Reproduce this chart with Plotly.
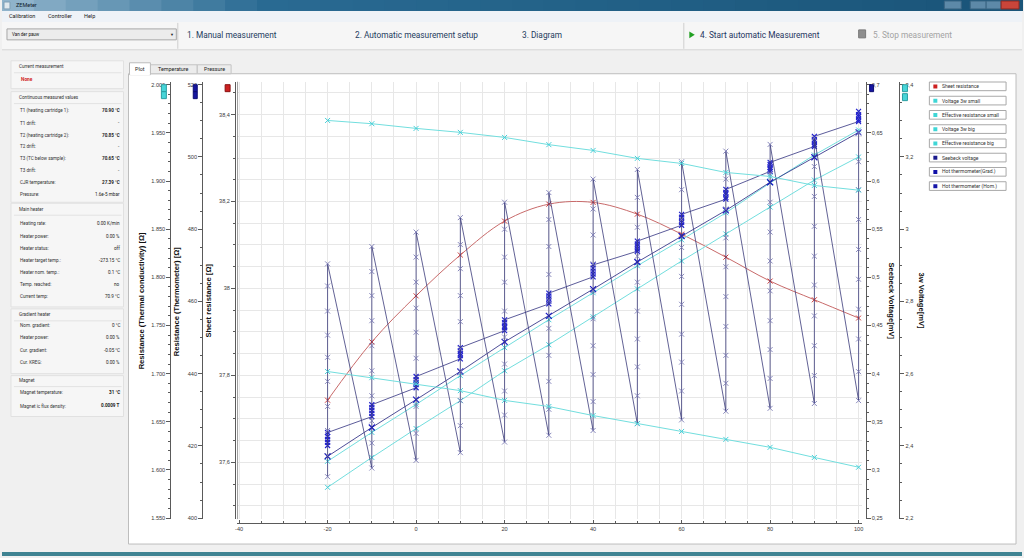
import plotly.graph_objects as go

W, H = 1024, 558
def fx(x): return x / W
def fy(y): return 1 - y / H

# ---------------- data ----------------
temps = [-20, -10, 0, 10, 20, 30, 40, 50, 60, 70, 80, 90, 100]
sheet_resistance = [37.743, 37.877, 37.983, 38.077, 38.155, 38.194, 38.198,
                    38.171, 38.125, 38.072, 38.017, 37.974, 37.932]
voltage_3w_small = [3.301, 3.292, 3.279, 3.268, 3.254, 3.234, 3.218,
                    3.196, 3.182, 3.157, 3.146, 3.121, 3.108]
voltage_3w_big = [2.606, 2.589, 2.572, 2.553, 2.526, 2.509, 2.484,
                  2.462, 2.440, 2.418, 2.396, 2.368, 2.341]
eff_res_small = [1.609, 1.639, 1.668, 1.698, 1.727, 1.756, 1.784,
                 1.812, 1.839, 1.867, 1.898, 1.927, 1.953]
eff_res_big = [1.582, 1.613, 1.643, 1.672, 1.703, 1.730, 1.759,
               1.788, 1.817, 1.845, 1.873, 1.901, 1.925]
hot_hom = [417.1, 425.1, 432.8, 440.6, 448.8, 456.0, 463.4,
           470.9, 478.1, 485.2, 493.0, 499.9, 506.8]
hot_grad = [
    [420.1, 421.0, 421.8, 422.6, 423.7],
    [428.1, 429.0, 429.8, 430.6, 431.4],
    [436.1, 437.0, 437.5, 438.3, 439.2],
    [444.1, 445.0, 445.5, 446.3, 447.2],
    [451.9, 452.7, 453.2, 454.1, 454.9],
    [459.3, 460.1, 460.7, 461.5, 462.3],
    [466.8, 467.6, 468.4, 469.2, 470.1],
    [473.9, 474.5, 475.3, 475.9, 476.7],
    [481.1, 481.9, 482.5, 483.3, 484.1],
    [488.3, 488.8, 489.7, 490.2, 491.0],
    [496.0, 496.6, 497.1, 497.9, 498.5],
    [502.9, 503.4, 504.3, 504.8, 505.7],
    [509.8, 510.3, 511.2, 511.7, 512.6],
]
seebeck = [
    [0.293, 0.315, 0.341, 0.366, 0.392, 0.417, 0.440, 0.465, 0.491, 0.514],
    [0.302, 0.328, 0.351, 0.377, 0.403, 0.429, 0.455, 0.481, 0.506, 0.532],
    [0.310, 0.338, 0.366, 0.392, 0.416, 0.443, 0.468, 0.495, 0.521, 0.547],
    [0.318, 0.346, 0.372, 0.402, 0.426, 0.454, 0.481, 0.509, 0.534, 0.562],
    [0.329, 0.357, 0.382, 0.410, 0.438, 0.465, 0.495, 0.521, 0.550, 0.578],
    [0.336, 0.363, 0.392, 0.419, 0.447, 0.476, 0.503, 0.532, 0.560, 0.588],
    [0.341, 0.371, 0.399, 0.429, 0.457, 0.486, 0.514, 0.544, 0.571, 0.602],
    [0.348, 0.377, 0.407, 0.436, 0.465, 0.495, 0.522, 0.552, 0.583, 0.612],
    [0.352, 0.382, 0.412, 0.441, 0.472, 0.501, 0.531, 0.560, 0.591, 0.620],
    [0.361, 0.390, 0.419, 0.449, 0.480, 0.511, 0.541, 0.571, 0.602, 0.631],
    [0.364, 0.395, 0.425, 0.455, 0.486, 0.517, 0.547, 0.578, 0.607, 0.638],
    [0.369, 0.398, 0.429, 0.460, 0.492, 0.522, 0.553, 0.584, 0.615, 0.645],
    [0.372, 0.402, 0.436, 0.467, 0.498, 0.529, 0.560, 0.591, 0.620, 0.650],
]

x_ticks = [-40, -20, 0, 20, 40, 60, 80, 100]
cond_ticks = [1.55, 1.60, 1.65, 1.70, 1.75, 1.80, 1.85, 1.90, 1.95, 2.00]
cond_labels = ["1.550", "1.600", "1.650", "1.700", "1.750", "1.800", "1.850", "1.900", "1.950", "2.000"]
therm_ticks = [400, 420, 440, 460, 480, 500, 520]
sheet_ticks = [37.6, 37.8, 38.0, 38.2, 38.4]
sheet_labels = ["37,6", "37,8", "38", "38,2", "38,4"]
seeb_ticks = [0.25, 0.30, 0.35, 0.40, 0.45, 0.50, 0.55, 0.60, 0.65, 0.70]
seeb_labels = ["0,25", "0,3", "0,35", "0,4", "0,45", "0,5", "0,55", "0,6", "0,65", "0,7"]
w3_ticks = [2.2, 2.4, 2.6, 2.8, 3.0, 3.2, 3.4]
w3_labels = ["2,2", "2,4", "2,6", "2,8", "3", "3,2", "3,4"]

legend_names = ["Sheet resistance", "Voltage 3w small", "Effective resistance small",
                "Voltage 3w big", "Effective resistance big", "Seebeck voltage",
                "Hot thermometer(Grad.)", "Hot thermometer (Hom.)"]
legend_colors = ["#cc2020", "#3fd6d6", "#3fd6d6", "#3fd6d6", "#3fd6d6",
                 "#1a1a8c", "#1010a8", "#1515a8"]

panel_headers = ["Current measurement", "Continuous measured values", "Main heater",
                 "Gradient heater", "Magnet"]
panel_rows = [
    ("T1 (heating cartridge 1):", "70.90 °C", True),
    ("T1 drift:", "-", False),
    ("T2 (heating cartridge 2):", "70.85 °C", True),
    ("T2 drift:", "-", False),
    ("T3 (TC below sample):", "70.65 °C", True),
    ("T3 drift:", "-", False),
    ("CJR temperature:", "27.39 °C", True),
    ("Pressure:", "1.6e-5 mbar", False),
    ("Heating rate:", "0.00 K/min", False),
    ("Heater power:", "0.00 %", False),
    ("Heater status:", "off", False),
    ("Heater target temp.:", "-273.15 °C", False),
    ("Heater nom. temp.:", "0.1 °C", False),
    ("Temp. reached:", "no", False),
    ("Current temp:", "70.9 °C", False),
    ("Nom. gradient:", "0 °C", False),
    ("Heater power:", "0.00 %", False),
    ("Cur. gradient:", "-0.05 °C", False),
    ("Cur. KREG:", "0.00 %", False),
    ("Magnet temperature:", "31 °C", True),
    ("Magnet ic flux density:", "0.0009 T", True),
]
steps = ["1. Manual measurement", "2. Automatic measurement setup", "3. Diagram",
         "4. Start automatic Measurement", "5. Stop measurement"]
menu_items = ["Calibration", "Controller", "Help"]
tabs = ["Plot", "Temperature", "Pressure"]

# ---------------- layout helpers ----------------
shapes, annotations = [], []
UI = "Roboto, Noto Sans, sans-serif"
AX = "Liberation Sans, Arial, sans-serif"

def rect(x0, y0, x1, y1, fill, line=None, lw=1, layer="below"):
    shapes.append(dict(type="rect", xref="paper", yref="paper",
                       x0=fx(x0), x1=fx(x1), y0=fy(y1), y1=fy(y0),
                       fillcolor=fill, layer=layer,
                       line=dict(color=line or fill, width=lw if line else 0)))

def hline(x0, x1, y, color, layer="below"):
    shapes.append(dict(type="line", xref="paper", yref="paper", x0=fx(x0), x1=fx(x1),
                       y0=fy(y), y1=fy(y), line=dict(color=color, width=1), layer=layer))

def vline(x, y0, y1, color, layer="below"):
    shapes.append(dict(type="line", xref="paper", yref="paper", x0=fx(x), x1=fx(x),
                       y0=fy(y0), y1=fy(y1), line=dict(color=color, width=1), layer=layer))

def text(x, y, s, size=5, color="#222", anchor="left", family=UI, angle=0):
    annotations.append(dict(x=fx(x), y=fy(y), xref="paper", yref="paper", text=s,
                            showarrow=False, xanchor=anchor, yanchor="middle",
                            textangle=angle, font=dict(family=family, size=size, color=color)))

# title bar (gradient strips)
def mix(c1, c2, t):
    a = [int(c1[i:i + 2], 16) for i in (1, 3, 5)]
    b = [int(c2[i:i + 2], 16) for i in (1, 3, 5)]
    return "#" + "".join(f"{int(a[k] + (b[k] - a[k]) * t):02x}" for k in range(3))

n = 32
for i in range(n):
    x0 = i * W / n
    t = i / (n - 1)
    c = mix("#8fb3cb", "#2a6b93", min(1, t * 4)) if t < 0.25 else mix("#2a6b93", "#1a5579", (t - 0.25) / 0.75)
    rect(x0, 0, x0 + W / n + 1, 11, c)
rect(2, 2, 8, 9, "#dfe8ee", "#7f9fb5")
text(12, 5.5, "ZEMeter", size=5.5, color="#10202c")
rect(946, 1, 963, 9, "#5d89a8", "#3b6583")
rect(972, 1, 988, 9, "#5d89a8", "#3b6583")
rect(988, 1, 1003, 9, "#5d89a8", "#3b6583")
rect(1003, 1, 1021, 9, "#c9453a", "#8c2a22")

# menu bar
rect(0, 11, W, 22, "#eef2f7")
mx = [5, 44, 80]
for s, x in zip(menu_items, mx):
    text(x, 16.5, s, size=5.5, color="#1a1a1a")

# toolbar
rect(0, 22, W, 50, "#f6f6f6")
hline(0, W, 50, "#d4d4d4")
rect(5, 29, 175, 40, "#ececec", "#a7a7a7")
text(8, 34.5, "Van der pauw", size=4.5, color="#111")
text(171, 34.5, "▼", size=4, color="#222", anchor="center")
vline(176.5, 23, 49, "#cfcfcf")
vline(684.5, 23, 49, "#cfcfcf")
step_x = [184, 352, 520, 699, 872]
step_col = ["#243c5e", "#243c5e", "#243c5e", "#1e3560", "#a3a3a3"]
for s, x, c in zip(steps, step_x, step_col):
    text(x, 35, s, size=8.3, color=c)
shapes.append(dict(type="path", xref="paper", yref="paper", layer="below",
                   path=f"M {fx(690)},{fy(31.5)} L {fx(695.5)},{fy(35)} L {fx(690)},{fy(38.5)} Z",
                   fillcolor="#22a022", line=dict(width=0)))
rect(860, 30, 867, 38, "#8e8e8e", "#7a7a7a")

# left panel
group_boxes = [(61, 89), (92, 203), (204, 308), (310, 375), (377, 418)]
header_y = [67, 98, 210, 316, 382]
for (y0, y1), hy, h in zip(group_boxes, header_y, panel_headers):
    rect(9, y0, 122, y1, "#f6f6f6", "#e1e1e1")
    text(15, hy, h, size=4.6, color="#333")
    hline(12, 120, hy + 6, "#e2e2e2")
text(17, 80, "<b>None</b>", size=4.8, color="#d02424")
row_y = [111, 123, 136, 147, 159, 171, 183, 195, 224, 237, 249, 261, 273, 286, 298,
         327, 339, 352, 364, 394, 407]
for (lab, val, bold), y in zip(panel_rows, row_y):
    text(16, y, lab, size=4.6, color="#333")
    text(120, y, f"<b>{val}</b>" if bold else val, size=4.6, color="#222", anchor="right")

# tab page
rect(127, 74, 1018, 546, "#ffffff", "#bdbdbd")
rect(149, 65, 196, 74, "#ececec", "#c3c3c3")
rect(196, 65, 230, 74, "#ececec", "#c3c3c3")
rect(128, 63, 149, 75, "#ffffff", "#bdbdbd")
rect(128.6, 73.5, 148.4, 75.5, "#ffffff")
text(138.5, 69, tabs[0], size=5.4, color="#222", anchor="center")
text(172.5, 69.5, tabs[1], size=5.4, color="#222", anchor="center")
text(213, 69.5, tabs[2], size=5.4, color="#222", anchor="center")

# bottom taskbar hint
rect(0, 554, W, 558, "#3f8392")

# ---------------- traces ----------------
fig = go.Figure()
sx = [t for t, col in zip(temps, seebeck) for _ in col]
sy = [v for col in seebeck for v in col]
fig.add_trace(go.Scatter(x=sx, y=sy, yaxis="y4", mode="lines+markers",
                         line=dict(color="#3a3a7a", width=0.8),
                         marker=dict(symbol="x-thin", size=5, line=dict(width=0.9, color="#7a7ab4")),
                         name=legend_names[5]))
cyan_line = "#72dede"
for ys, ax in [(voltage_3w_small, "y5"), (eff_res_small, "y2"),
               (voltage_3w_big, "y5"), (eff_res_big, "y2")]:
    fig.add_trace(go.Scatter(x=temps, y=ys, yaxis=ax, mode="lines+markers",
                             line=dict(color=cyan_line, width=1),
                             marker=dict(symbol="x-thin", size=5, line=dict(width=1, color="#45cfd8"))))
gx = [t for t, col in zip(temps, hot_grad) for _ in col]
gy = [v for col in hot_grad for v in col]
fig.add_trace(go.Scatter(x=gx, y=gy, yaxis="y3", mode="lines+markers",
                         line=dict(color="#4a4a8e", width=0.9),
                         marker=dict(symbol="x-thin", size=5, line=dict(width=1.2, color="#2323cc")),
                         name=legend_names[6]))
fig.add_trace(go.Scatter(x=temps, y=hot_hom, yaxis="y3", mode="lines+markers",
                         line=dict(color="#3a3a8c", width=0.9),
                         marker=dict(symbol="x-thin", size=6, line=dict(width=1.2, color="#1a1ac0")),
                         name=legend_names[7]))
fig.add_trace(go.Scatter(x=temps, y=sheet_resistance, yaxis="y", mode="lines+markers",
                         line=dict(color="#c86a6a", width=1, shape="spline"),
                         marker=dict(symbol="x-thin", size=5, line=dict(width=1, color="#cc3a3a")),
                         name=legend_names[0]))
fig.update_traces(showlegend=False, hoverinfo="skip")

# ---------------- axes ----------------
tickfont = dict(family=AX, size=5.6, color="#3a3a3a")
ydom = [fy(521), fy(82)]
common = dict(showline=True, linecolor="#5a5a5a", linewidth=1, tickcolor="#5a5a5a",
              tickfont=tickfont, zeroline=False, fixedrange=True, tickmode="array")

fig.update_layout(
    width=W, height=H, autosize=False,
    margin=dict(l=0, r=0, t=0, b=0),
    paper_bgcolor="#f0f0f0", plot_bgcolor="#ffffff",
    showlegend=False, hovermode=False,
    xaxis=dict(domain=[fx(236), fx(863)], range=[-40.45, 100.68], anchor="free",
               position=fy(525), tickvals=x_ticks, ticktext=[str(v) for v in x_ticks],
               ticks="inside", ticklen=3, showgrid=True, gridcolor="#e7e7e7",
               minor=dict(tickmode="linear", tick0=0, dtick=5, ticks="inside", ticklen=2,
                          tickcolor="#5a5a5a", showgrid=True, gridcolor="#e7e7e7"),
               **common),
    yaxis=dict(domain=ydom, range=[37.46934, 38.47565], anchor="free", position=fx(234),
               side="left", tickvals=sheet_ticks, ticktext=sheet_labels,
               ticks="outside", ticklen=4, showgrid=True, gridcolor="#e7e7e7",
               minor=dict(tickmode="linear", tick0=37.6, dtick=0.05, ticks="outside", ticklen=2,
                          tickcolor="#5a5a5a", showgrid=True, gridcolor="#e7e7e7"),
               **common),
    yaxis2=dict(overlaying="y", anchor="free", position=fx(169), side="left",
                range=[1.548966, 2.003103], tickvals=cond_ticks, ticktext=cond_labels,
                ticks="outside", ticklen=4, showgrid=False,
                minor=dict(tickmode="linear", tick0=1.55, dtick=0.01, ticks="outside",
                           ticklen=2, tickcolor="#5a5a5a"),
                **common),
    yaxis3=dict(overlaying="y", anchor="free", position=fx(201), side="left",
                range=[399.724, 520.828], tickvals=therm_ticks,
                ticktext=[str(v) for v in therm_ticks],
                ticks="outside", ticklen=4, showgrid=False,
                minor=dict(tickmode="linear", tick0=400, dtick=5, ticks="outside",
                           ticklen=2, tickcolor="#5a5a5a"),
                **common),
    yaxis4=dict(overlaying="y", anchor="free", position=fx(867), side="right",
                range=[0.248966, 0.703103], tickvals=seeb_ticks, ticktext=seeb_labels,
                ticks="outside", ticklen=4, showgrid=False,
                minor=dict(tickmode="linear", tick0=0.25, dtick=0.01, ticks="outside",
                           ticklen=2, tickcolor="#5a5a5a"),
                **common),
    yaxis5=dict(overlaying="y", anchor="free", position=fx(901), side="right",
                range=[2.197241, 3.408276], tickvals=w3_ticks, ticktext=w3_labels,
                ticks="outside", ticklen=4, showgrid=False,
                minor=dict(tickmode="linear", tick0=2.2, dtick=0.05, ticks="outside",
                           ticklen=2, tickcolor="#5a5a5a"),
                **common),
)

# second frame line beside sheet-resistance axis
vline(236.5, 82, 521, "#9a9a9a", layer="above")

# axis titles
tfont = 7.6
text(140, 302, "<b>Resistance (Thermal conductivity) [Ω]</b>", size=tfont, color="#111", anchor="center", family=AX, angle=-90)
text(176, 302, "<b>Resistance (Thermometer) [Ω]</b>", size=tfont, color="#111", anchor="center", family=AX, angle=-90)
text(207.5, 302, "<b>Sheet resistance [Ω]</b>", size=tfont, color="#111", anchor="center", family=AX, angle=-90)
text(893, 302, "<b>Seebeck Voltage[mV]</b>", size=tfont, color="#111", anchor="center", family=AX, angle=90)
text(923, 302, "<b>3w Voltage[mV]</b>", size=tfont, color="#111", anchor="center", family=AX, angle=90)

# axis colour markers
rect(160, 85, 165, 92, "#47d5d8", "#2a9ea2", layer="above")
rect(160, 92, 165, 99, "#47d5d8", "#2a9ea2", layer="above")
rect(192, 85, 196, 92, "#1616a0", "#0c0c70", layer="above")
rect(192, 92, 196, 99, "#1616a0", "#0c0c70", layer="above")
rect(224, 85, 229, 92, "#cc2020", "#8a1010", layer="above")
rect(871, 85, 875, 92, "#1616a0", "#0c0c70", layer="above")
rect(904, 85, 909, 92, "#47d5d8", "#2a9ea2", layer="above")
rect(904, 94, 909, 101, "#47d5d8", "#2a9ea2", layer="above")

# legend
for i, (name, col) in enumerate(zip(legend_names, legend_colors)):
    top = 82.3 + i * 14.3
    rect(931, top, 1008, top + 8.7, "#ffffff", "#a9a9a9", layer="above")
    rect(935, top + 2.5, 939, top + 6.5, col, layer="above")
    text(942, top + 4.5, name, size=5.0, color="#333")

fig.update_layout(shapes=shapes, annotations=annotations)
fig.write_html("out.html", config={"displayModeBar": False},
               post_script="document.body.style.margin='0';document.body.style.overflow='hidden';")
